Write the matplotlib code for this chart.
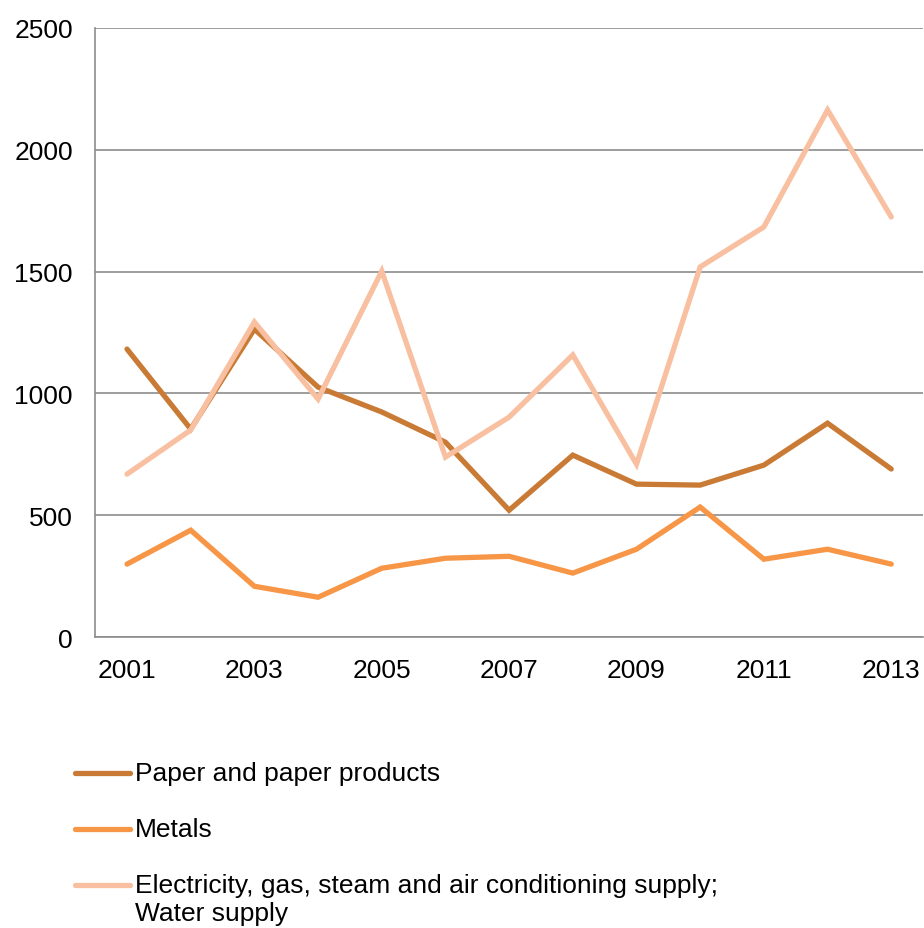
import matplotlib
matplotlib.use("Agg")
import matplotlib.pyplot as plt

plt.rcParams["font.family"] = ["Liberation Sans", "DejaVu Sans"]
plt.rcParams["font.size"] = 19

years = list(range(2001, 2014))
paper = [1182, 854, 1264, 1026, 924, 800, 521, 747, 628, 624, 706, 878, 690]
metals = [300, 439, 209, 164, 283, 324, 332, 263, 361, 534, 320, 361, 300]
electricity = [669, 850, 1293, 977, 1502, 739, 903, 1158, 710, 1519, 1683, 2163, 1724]

labels = ["Paper and paper products", "Metals",
          "Electricity, gas, steam and air conditioning supply;\nWater supply"]
colors = ["#C97B35", "#F79646", "#F8C0A0"]

W, H = 924, 929
fig = plt.figure(figsize=(W / 100, H / 100), dpi=100)
ax = fig.add_axes([0.103, 0.313, 0.896, 0.656])

for vals, lab, col in zip([paper, metals, electricity], labels, colors):
    ax.plot(years, vals, color=col, lw=3.8, label=lab,
            solid_capstyle="round", solid_joinstyle="miter")

ax.set_xlim(2000.5, 2013.5)
ax.set_ylim(0, 2500)
ax.set_yticks(range(0, 2501, 500))
ax.set_xticks(years[::2])
ax.grid(axis="y", color="#8C8C8C", lw=1.2)
ax.set_axisbelow(True)
for s in ["top", "right"]:
    ax.spines[s].set_visible(False)
for s in ["left", "bottom"]:
    ax.spines[s].set_color("#8C8C8C")
    ax.spines[s].set_linewidth(1.2)
ax.tick_params(axis="y", length=0, pad=16)
ax.tick_params(axis="x", length=0, pad=15)

# legend drawn by hand so the handle lines up with the first text line
row_y = 774  # pixels from top
for lab, col in zip(labels, colors):
    yf = 1 - row_y / H
    fig.add_artist(plt.Line2D([75 / W, 130 / W], [yf, yf], color=col, lw=3.8,
                              solid_capstyle="round"))
    fig.text(135 / W, 1 - (row_y - 12) / H, lab, va="top", ha="left")
    row_y += 56

fig.savefig("out.png", dpi=100)
